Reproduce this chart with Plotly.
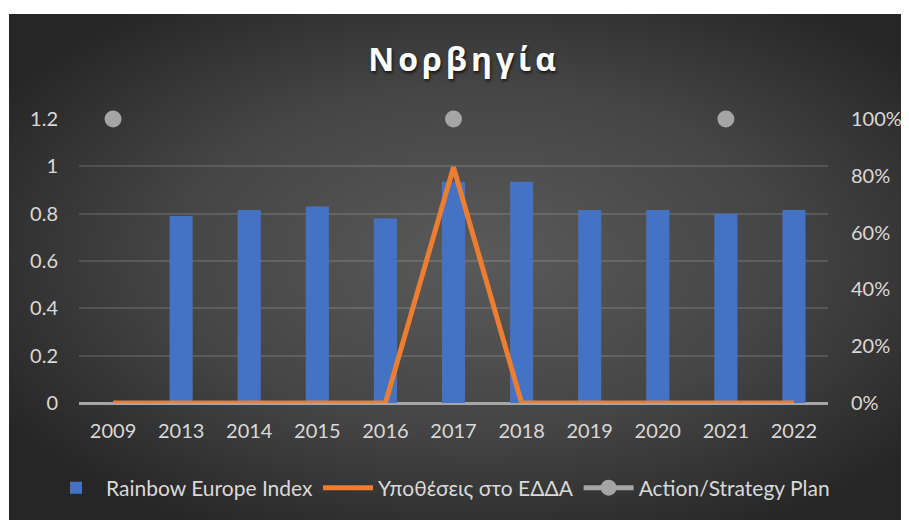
import base64
import plotly.graph_objects as go

# ---- data ----
years = ["2009", "2013", "2014", "2015", "2016", "2017", "2018", "2019", "2020", "2021", "2022"]
rainbow_index = [None, 0.79, 0.815, 0.83, 0.78, 0.935, 0.935, 0.815, 0.815, 0.80, 0.815]
echr_cases = [0, 0, 0, 0, 0, 0.83, 0, 0, 0, 0, 0]
action_plan = [1.2, None, None, None, None, 1.2, None, None, None, 1.2, None]

left_ticks = [0, 0.2, 0.4, 0.6, 0.8, 1, 1.2]
left_ticklabels = ["0", "0.2", "0.4", "0.6", "0.8", "1", "1.2"]
right_ticks = [0, 0.2, 0.4, 0.6, 0.8, 1.0]
right_ticklabels = ["0%", "20%", "40%", "60%", "80%", "100%"]

title_text = "Νορβηγία"
names = ["Rainbow Europe Index", "Υποθέσεις στο ΕΔΔΑ", "Action/Strategy Plan"]

# ---- layout geometry (page has an 8px body margin) ----
OFF = 8
W, H = 909 - OFF, 520 - OFF
ML, MR, MT, MB = 79 - OFF, 81, 119 - OFF, 117
PW, PH = W - ML - MR, H - MT - MB
bx0, by0, bx1, by1 = 9 - OFF, 14 - OFF, W, H


def px_to_paper_x(px):
    return (px - OFF - ML) / PW


def px_to_paper_y(py):
    return (H - MB - (py - OFF)) / PH


svg = (
    '<svg xmlns="http://www.w3.org/2000/svg" width="900" height="506" '
    'preserveAspectRatio="none" viewBox="0 0 900 506">'
    '<defs><radialGradient id="g" cx="52%" cy="48%" r="62%">'
    '<stop offset="0" stop-color="#5a5a5a"/>'
    '<stop offset="0.55" stop-color="#454545"/>'
    '<stop offset="1" stop-color="#262626"/>'
    '</radialGradient></defs>'
    '<rect x="0" y="0" width="900" height="506" fill="url(#g)"/></svg>'
)
src = "data:image/svg+xml;base64," + base64.b64encode(svg.encode()).decode()

FONT = "Lato, 'Open Sans', sans-serif"
TICKCOL = "#d9d9d9"

fig = go.Figure()
fig.add_trace(go.Bar(
    x=years, y=rainbow_index, name=names[0],
    marker=dict(color="#4472c4", line=dict(width=0)),
    yaxis="y",
))
fig.add_trace(go.Scatter(
    x=years, y=echr_cases, name=names[1], mode="lines",
    line=dict(color="#ed7d31", width=5),
    cliponaxis=False,
    yaxis="y2",
))
fig.add_trace(go.Scatter(
    x=years, y=action_plan, name=names[2], mode="lines+markers",
    line=dict(color="#a5a5a5", width=5),
    marker=dict(color="#a5a5a5", size=17, line=dict(width=0)),
    connectgaps=False, cliponaxis=False,
    yaxis="y",
))

fig.update_layout(
    width=W, height=H,
    margin=dict(l=ML, r=MR, t=MT, b=MB, autoexpand=False),
    paper_bgcolor="white",
    plot_bgcolor="rgba(0,0,0,0)",
    font=dict(family=FONT, color=TICKCOL),
    bargap=0.66,
    showlegend=True,
    hovermode=False,
    title=dict(
        text='<span style="letter-spacing:4px">' + title_text + '</span>',
        x=(464 - OFF) / W, xanchor="center",
        y=1 - (60 - OFF) / H, yanchor="middle",
        font=dict(family="'Open Sans', sans-serif", size=32, color="white", weight="bold",
                  shadow="1px 2px 3px rgba(0,0,0,0.7)"),
    ),
    xaxis=dict(
        type="category", range=[-0.5, len(years) - 0.5], autorange=False,
        showgrid=False, zeroline=False, showline=False,
        tickfont=dict(size=20, color=TICKCOL, family=FONT),
        ticks="", ticklabelstandoff=14,
    ),
    yaxis=dict(
        range=[0, 1.2], tickvals=left_ticks, ticktext=left_ticklabels,
        showgrid=True, gridcolor="rgba(255,255,255,0.13)", gridwidth=2,
        zeroline=True, zerolinecolor="#a6a6a6", zerolinewidth=2.5,
        showline=False, ticks="", ticklabelstandoff=20,
        tickfont=dict(size=20, color=TICKCOL, family=FONT),
    ),
    yaxis2=dict(
        range=[0, 1.0], tickvals=right_ticks, ticktext=right_ticklabels,
        overlaying="y", side="right", showgrid=False, zeroline=False,
        showline=False, ticks="", ticklabelstandoff=22,
        tickfont=dict(size=20, color=TICKCOL, family=FONT),
    ),
    legend=dict(
        orientation="h", x=px_to_paper_x(46), xanchor="left",
        y=px_to_paper_y(488), yanchor="middle",
        font=dict(size=21, color=TICKCOL, family=FONT),
        bgcolor="rgba(0,0,0,0)", itemwidth=50,
        traceorder="normal",
    ),
    images=[dict(
        source=src, xref="paper", yref="paper",
        x=(bx0 - ML) / PW, y=(H - MB - by0) / PH,
        sizex=(bx1 - bx0) / PW, sizey=(by1 - by0) / PH,
        xanchor="left", yanchor="top", sizing="stretch", layer="below",
    )],
)

fig.write_html("out.html")
